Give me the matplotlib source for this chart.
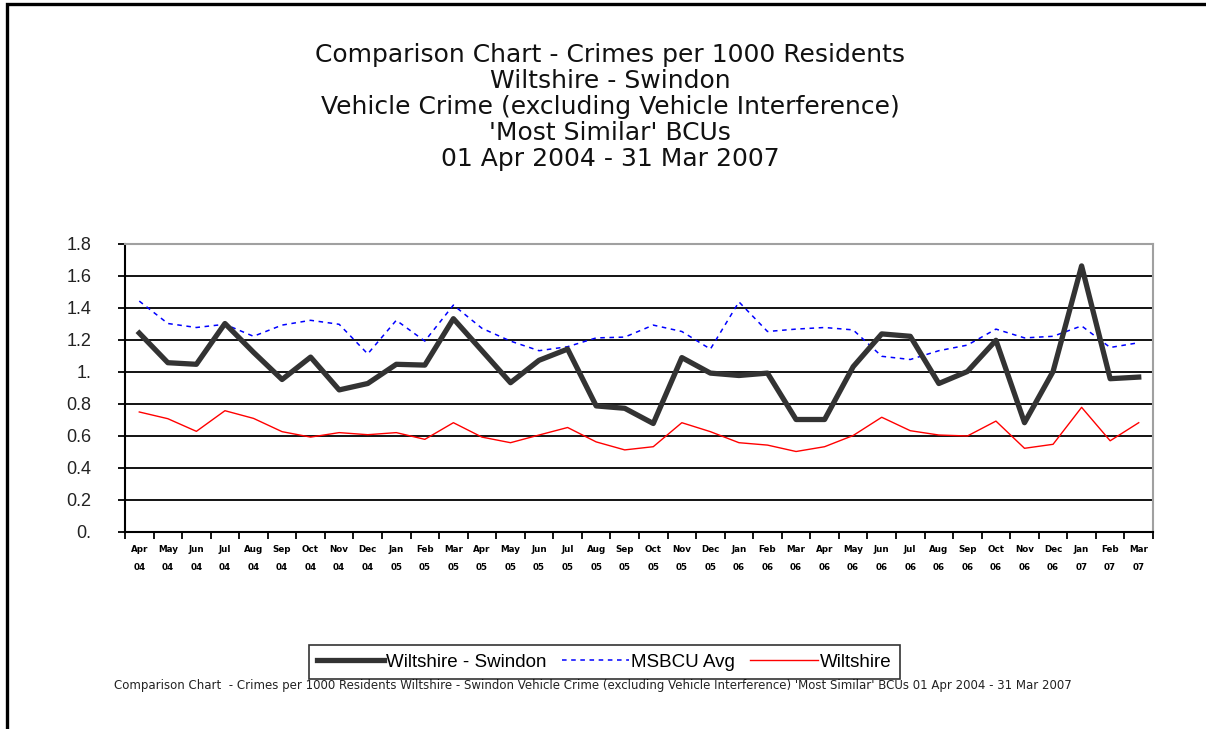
import matplotlib
matplotlib.use("Agg")
import matplotlib.pyplot as plt
from matplotlib.patches import Rectangle

months = ["Apr", "May", "Jun", "Jul", "Aug", "Sep", "Oct", "Nov", "Dec", "Jan", "Feb", "Mar"] * 3
years = ["04"] * 9 + ["05"] * 12 + ["06"] * 12 + ["07"] * 3
tick_labels = [m + "\n" + y for m, y in zip(months, years)]

swindon = [1.24, 1.055, 1.045, 1.30, 1.12, 0.95, 1.09, 0.885, 0.925, 1.045, 1.04, 1.33,
           1.13, 0.93, 1.07, 1.14, 0.785, 0.77, 0.675, 1.087, 0.99, 0.975, 0.99, 0.70,
           0.70, 1.03, 1.235, 1.22, 0.925, 1.00, 1.195, 0.68, 1.00, 1.66, 0.955, 0.965]
msbcu = [1.44, 1.30, 1.275, 1.295, 1.22, 1.29, 1.32, 1.295, 1.11, 1.32, 1.19, 1.415,
         1.27, 1.19, 1.13, 1.155, 1.21, 1.215, 1.29, 1.25, 1.14, 1.435, 1.25, 1.265,
         1.275, 1.26, 1.095, 1.075, 1.13, 1.165, 1.265, 1.21, 1.22, 1.285, 1.15, 1.18]
wiltshire = [0.747, 0.705, 0.626, 0.755, 0.707, 0.624, 0.59, 0.618, 0.605, 0.618, 0.576, 0.68,
             0.59, 0.555, 0.603, 0.65, 0.56, 0.51, 0.53, 0.68, 0.624, 0.555, 0.54, 0.50,
             0.53, 0.60, 0.714, 0.63, 0.603, 0.597, 0.69, 0.52, 0.545, 0.776, 0.567, 0.68]

y_ticks = [0, 0.2, 0.4, 0.6, 0.8, 1.0, 1.2, 1.4, 1.6, 1.8]
y_labels = ["0.", "0.2", "0.4", "0.6", "0.8", "1.", "1.2", "1.4", "1.6", "1.8"]

title_lines = ["Comparison Chart - Crimes per 1000 Residents",
               "Wiltshire - Swindon",
               "Vehicle Crime (excluding Vehicle Interference)",
               "'Most Similar' BCUs",
               "01 Apr 2004 - 31 Mar 2007"]
footer = ("Comparison Chart  - Crimes per 1000 Residents Wiltshire - Swindon Vehicle Crime "
          "(excluding Vehicle Interference) 'Most Similar' BCUs 01 Apr 2004 - 31 Mar 2007")

W, H = 1206, 729
fig = plt.figure(figsize=(W / 100, H / 100), dpi=100)

# outer frame, only top and left edges are visible in the original
fig.add_artist(Rectangle((6.5 / W, -0.2), 1.2, 1.2 - 4 / H, transform=fig.transFigure,
                         fill=False, edgecolor="black", linewidth=2.4))

ax = fig.add_axes([125 / W, 1 - 531.5 / H, 1028 / W, 288 / H])
x = list(range(len(swindon)))
ax.plot(x, swindon, color="#333333", linewidth=3.8, label="Wiltshire - Swindon", zorder=4)
ax.plot(x, msbcu, color="blue", linewidth=1.1, linestyle=(0, (3, 3)), label="MSBCU Avg", zorder=3)
ax.plot(x, wiltshire, color="red", linewidth=1.0, label="Wiltshire", zorder=3)

ax.set_xlim(-0.5, len(x) - 0.5)
ax.set_ylim(0, 1.8)
ax.set_yticks(y_ticks, labels=y_labels)
ax.yaxis.grid(True, color="black", linewidth=1.3)
ax.set_axisbelow(True)
ax.set_xticks(x, labels=tick_labels)
ax.set_xticks([i - 0.5 for i in range(len(x) + 1)], minor=True)
ax.tick_params(axis="x", which="major", length=0, pad=10, labelsize=6.3)
ax.tick_params(axis="x", which="minor", length=5, width=1.3, direction="out")
ax.tick_params(axis="y", length=5, width=1.3, labelsize=13, pad=19, labelcolor="#222222")
for lab in ax.get_yticklabels():
    lab.set_family("Liberation Sans")
for lab in ax.get_xticklabels():
    lab.set_fontweight("bold")
    lab.set_linespacing(2.2)
ax.spines["left"].set_linewidth(1.5)
ax.spines["bottom"].set_linewidth(1.5)
ax.spines["top"].set_color("#a0a0a0")
ax.spines["right"].set_color("#a0a0a0")
ax.spines["top"].set_linewidth(1.5)
ax.spines["right"].set_linewidth(1.5)

for i, line in enumerate(title_lines):
    fig.text(610 / W, 1 - (55 + 26 * i) / H, line, ha="center", va="center",
             fontsize=18, family="DejaVu Sans", color="#111111")

leg = fig.legend(loc="center", bbox_to_anchor=(604 / W, 1 - 662 / H), ncol=3,
                 frameon=True, fancybox=False, handlelength=3.6, handletextpad=0.1,
                 columnspacing=0.8, borderpad=0.45,
                 prop={"family": "Liberation Sans", "size": 13.5})
leg.get_frame().set_edgecolor("black")
leg.get_frame().set_facecolor("none")
leg.get_frame().set_linewidth(1.2)

fig.text(593 / W, 1 - 686 / H, footer, ha="center", va="center", fontsize=8.5,
         family="DejaVu Sans", color="#222222")

fig.savefig("out.png", dpi=100)
